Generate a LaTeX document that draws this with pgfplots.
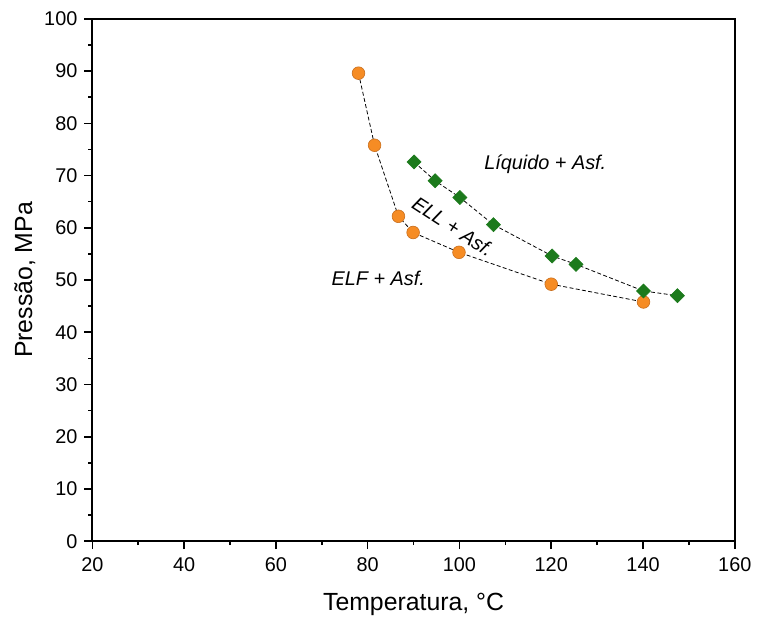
\documentclass[border=0pt]{standalone}
\usepackage{pgfplots}
\pgfplotsset{compat=1.18}
\usepackage{fontspec}
\setmainfont{Liberation Sans}
\definecolor{myorange}{RGB}{246,140,36}
\definecolor{myorangedark}{RGB}{200,110,30}
\definecolor{mygreen}{RGB}{28,122,28}
\begin{document}
\begin{tikzpicture}
\begin{axis}[
  scale only axis,
  width=323.5pt, height=263pt,
  xmin=20, xmax=160, ymin=0, ymax=100,
  xtick={20,40,...,160}, ytick={0,10,...,100},
  minor x tick num=1, minor y tick num=1,
  tick align=outside,
  xtick pos=bottom, ytick pos=left,
  major tick length=4pt, minor tick length=2pt,
  every tick/.style={black, line width=0.8pt},
  axis line style={line width=0.9pt},
  /pgf/number format/assume math mode=true,
  tick label style={font=\fontsize{10}{12}\selectfont},
  xticklabel style={yshift=-1pt},
  label style={font=\fontsize{12.5}{15}\selectfont},
  xlabel={Temperatura, °C},
  ylabel={Pressão, MPa},
  xlabel style={at={(axis description cs:0.5,-0.122)}, anchor=center},
  ylabel style={at={(axis description cs:-0.105,0.5)}, anchor=center},
  clip=false,
]
\path (rel axis cs:-0.1437,-0.1464) rectangle (rel axis cs:1.0278,1.0361);
\addplot[black, dashed, dash pattern=on 2pt off 1.2pt, line width=0.4pt,
  mark=*, mark size=3.2pt,
  mark options={solid, fill=myorange, draw=myorangedark, line width=0.3pt}]
  coordinates {
  (78.0,89.6) (81.5,75.8) (86.7,62.2) (89.9,59.1) (99.9,55.3) (120.0,49.2) (140.1,45.8)
  };
\addplot[black, dashed, dash pattern=on 2pt off 1.2pt, line width=0.4pt,
  mark=square*, mark size=2.5pt,
  mark options={solid, rotate=45, fill=mygreen, draw=mygreen, line width=0.3pt}]
  coordinates {
  (90.1,72.6) (94.7,69.0) (100.1,65.8) (107.4,60.6) (120.2,54.6) (125.4,53.0) (140.1,47.9) (147.5,47.0)
  };
\node[font=\itshape\fontsize{10}{12}\selectfont] at (axis cs:118.7,72.2) {Líquido + Asf.};
\node[font=\itshape\fontsize{10}{12}\selectfont, rotate=-33, inner sep=0pt] at (axis cs:98.6,60.2) {ELL + Asf.};
\node[font=\itshape\fontsize{10}{12}\selectfont] at (axis cs:82.3,50.4) {ELF + Asf.};
\end{axis}
\end{tikzpicture}
\end{document}
